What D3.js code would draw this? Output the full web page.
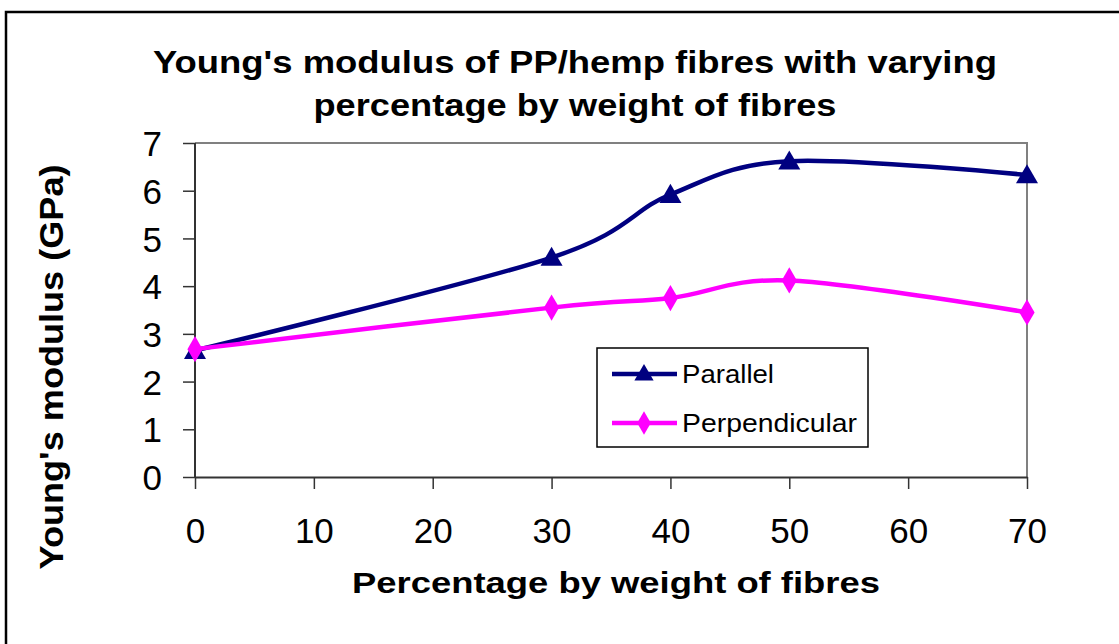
<!DOCTYPE html>
<html><head><meta charset="utf-8">
<script src="https://cdn.jsdelivr.net/npm/d3@7"></script>
<style>body{margin:0;background:#fff}svg{display:block}text{font-family:Arial,"Liberation Sans",sans-serif}</style>
</head><body>
<svg id="c" width="1119" height="644"></svg>
<script>
const xValues = [0, 30, 40, 50, 70];
const parallel = [2.65, 4.6, 5.92, 6.62, 6.33];
const perpendicular = [2.68, 3.55, 3.75, 4.12, 3.45];
const seriesNames = ["Parallel", "Perpendicular"];
const seriesColors = ["#000080", "#FF00FF"];
const xTicks = [0, 10, 20, 30, 40, 50, 60, 70];
const yTicks = [0, 1, 2, 3, 4, 5, 6, 7];
const titleLines = ["Young's modulus of PP/hemp fibres with varying", "percentage by weight of fibres"];
const xTitle = "Percentage by weight of fibres";
const yTitle = "Young's modulus (GPa)";

const svg = d3.select("#c");
const L = 195, R = 1027, T = 143, B = 477;
const x = d3.scaleLinear().domain([0, 70]).range([L, R]);
const y = d3.scaleLinear().domain([0, 7]).range([B, T]);

// outer border
svg.append("rect").attr("x", 6).attr("y", 12).attr("width", 1200).attr("height", 700)
  .attr("fill", "none").attr("stroke", "#000").attr("stroke-width", 2.5);

// plot frame (top/right gray)
svg.append("path").attr("d", `M${L},${T}H${R}V${B}`).attr("fill", "none").attr("stroke", "#808080").attr("stroke-width", 2);

const yAxis = svg.append("g").attr("transform", `translate(${L},0)`)
  .call(d3.axisLeft(y).tickValues(yTicks).tickFormat(d3.format("d")).tickSize(12).tickPadding(21).tickSizeOuter(0));
const xAxis = svg.append("g").attr("transform", `translate(0,${B})`)
  .call(d3.axisBottom(x).tickValues(xTicks).tickFormat(d3.format("d")).tickSize(12).tickPadding(29).tickSizeOuter(0));
[yAxis, xAxis].forEach(a => {
  a.select(".domain").attr("stroke", "#333").attr("stroke-width", 2);
  a.selectAll(".tick line").attr("stroke", "#333").attr("stroke-width", 1.5);
  a.selectAll(".tick text").attr("font-size", 35).attr("fill", "#000").attr("font-family", "Arial, 'Liberation Sans', sans-serif");
});
yAxis.select(".domain").attr("d", `M0,${B}V${T}`);
yAxis.selectAll(".tick text").attr("dy", "0.36em");

const line = d3.line().x(d => x(d[0])).y(d => y(d[1])).curve(d3.curveCardinal.tension(0));
const data = [parallel, perpendicular].map(v => xValues.map((xv, i) => [xv, v[i]]));

data.forEach((pts, s) => {
  svg.append("path").datum(pts).attr("d", line).attr("fill", "none")
    .attr("stroke", seriesColors[s]).attr("stroke-width", 4.5);
});
const tri = d3.symbol().type(d3.symbolTriangle).size(210);
const dia = d3.symbol().type(d3.symbolDiamond).size(200);
data.forEach((pts, s) => {
  svg.append("g").selectAll("path").data(pts).join("path")
    .attr("transform", d => `translate(${x(d[0])},${y(d[1]) + (s === 0 ? 2 : 0)})`)
    .attr("d", s === 0 ? tri : dia).attr("fill", seriesColors[s]);
});

// legend
const lg = svg.append("g");
lg.append("rect").attr("x", 597).attr("y", 348).attr("width", 271).attr("height", 99)
  .attr("fill", "#fff").attr("stroke", "#000").attr("stroke-width", 1.5);
const legendLens = [92, 175];
seriesNames.forEach((n, i) => {
  const cy = 374 + i * 49;
  lg.append("line").attr("x1", 612).attr("x2", 677).attr("y1", cy).attr("y2", cy)
    .attr("stroke", seriesColors[i]).attr("stroke-width", 4.5);
  lg.append("path").attr("transform", `translate(644,${cy + (i === 0 ? 1 : 0)})`)
    .attr("d", i === 0 ? d3.symbol().type(d3.symbolTriangle).size(160)() : d3.symbol().type(d3.symbolDiamond).size(160)())
    .attr("fill", seriesColors[i]);
  lg.append("text").attr("x", 682).attr("y", cy).attr("dy", "0.36em").attr("font-size", 26)
    .attr("textLength", legendLens[i]).attr("lengthAdjust", "spacingAndGlyphs").text(n);
});

// titles
const titleLens = [844, 523];
const titleBase = [73, 116];
titleLines.forEach((t, i) => {
  svg.append("text").attr("x", 575).attr("y", titleBase[i]).attr("text-anchor", "middle")
    .attr("font-size", 32).attr("font-weight", "bold")
    .attr("textLength", titleLens[i]).attr("lengthAdjust", "spacingAndGlyphs").text(t);
});
svg.append("text").attr("x", 616).attr("y", 593).attr("text-anchor", "middle")
  .attr("font-size", 30).attr("font-weight", "bold")
  .attr("textLength", 528).attr("lengthAdjust", "spacingAndGlyphs").text(xTitle);
svg.append("text").attr("transform", "translate(63,367) rotate(-90)").attr("text-anchor", "middle")
  .attr("font-size", 33).attr("font-weight", "bold")
  .attr("textLength", 405).attr("lengthAdjust", "spacingAndGlyphs").text(yTitle);
</script>
</body></html>
